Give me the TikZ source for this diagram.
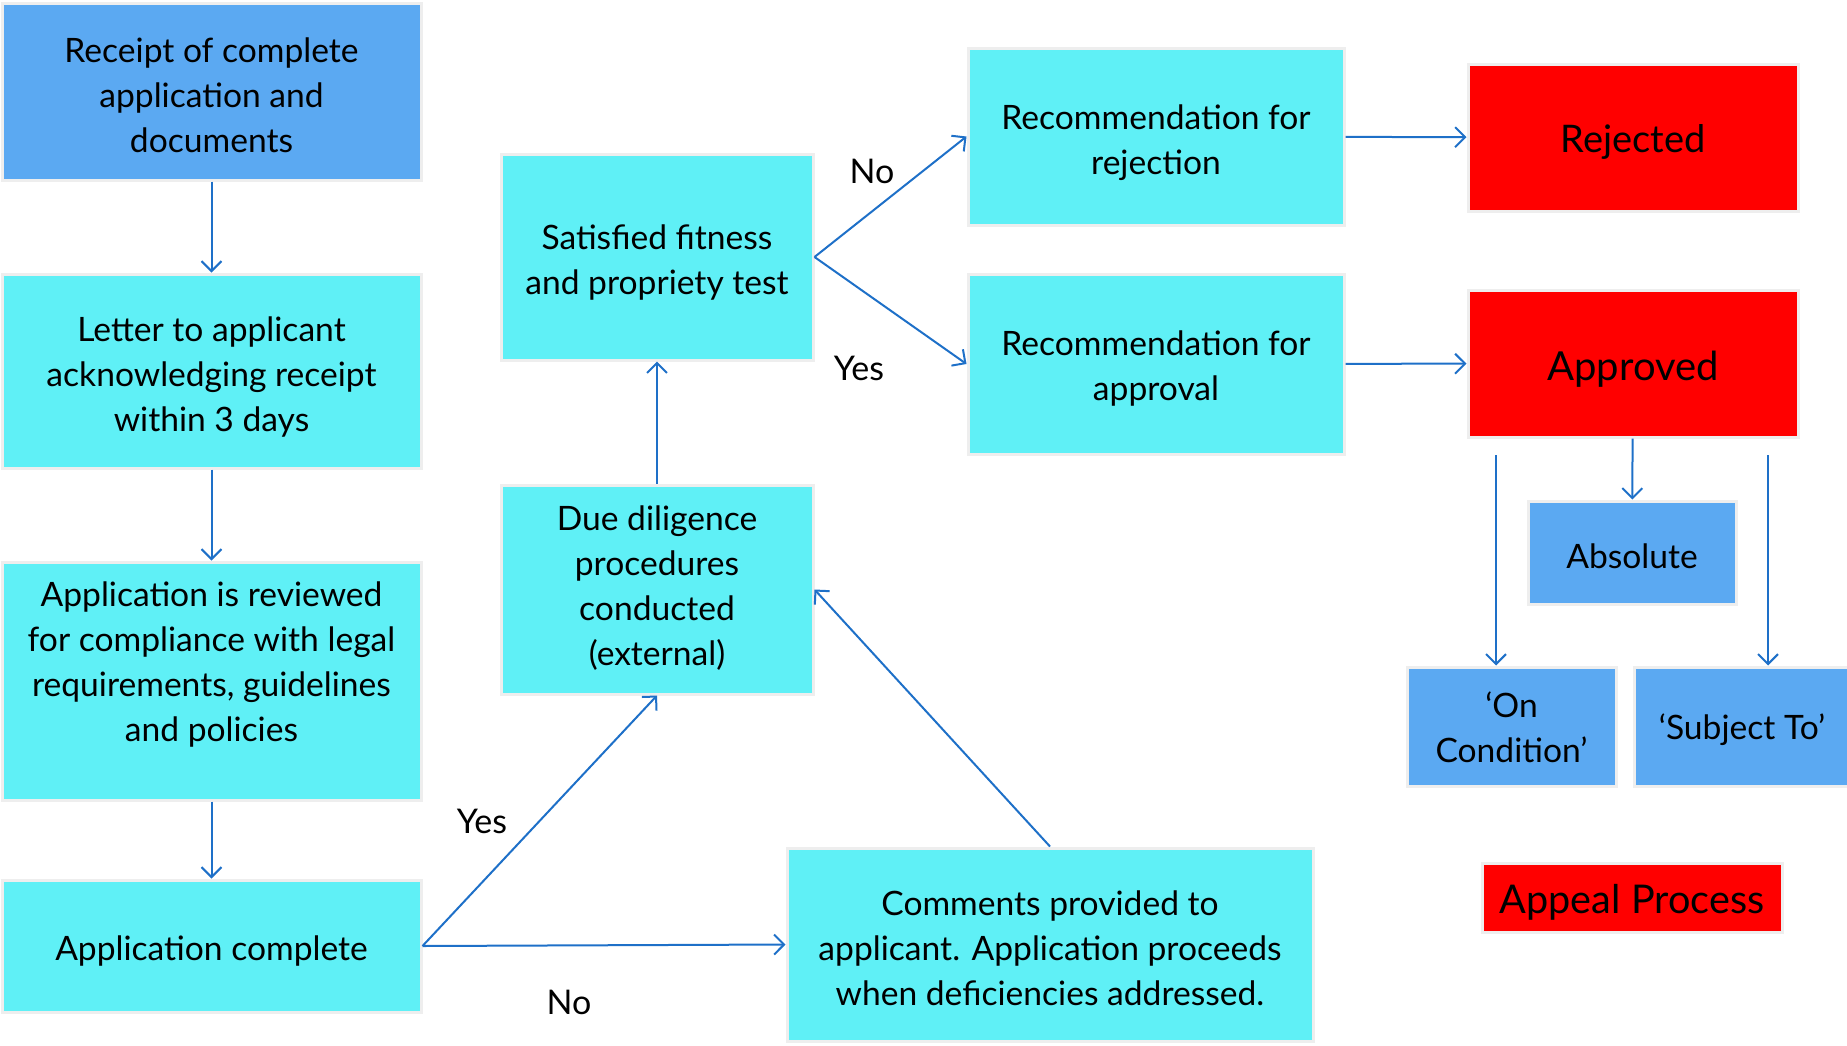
\documentclass[tikz,border=0pt]{standalone}
\usepackage{fontspec}
\setmainfont{Lato}
\usetikzlibrary{arrows.meta}
\definecolor{cyanbox}{RGB}{95,240,246}
\definecolor{bluebox}{RGB}{91,169,242}
\definecolor{redbox}{RGB}{255,0,0}
\definecolor{edgegray}{RGB}{238,238,238}
\definecolor{arrowblue}{RGB}{30,112,200}
\tikzset{
  x=0.5pt, y=-0.5pt,
  boxbase/.style={draw=edgegray, line width=1.5pt, inner sep=0pt},
  cbox/.style={boxbase, fill=cyanbox},
  bbox/.style={boxbase, fill=bluebox},
  rbox/.style={boxbase, fill=redbox},
  boxtext/.style={align=center, inner sep=0pt, text=black,
     font=\fontsize{16.8}{22.5}\selectfont, yshift=-2.4pt},
  conn/.style={draw=arrowblue, line width=1pt, -{Straight Barb[length=5pt,width=10pt,line width=1pt]}},
  lbl/.style={font=\fontsize{17}{20}\selectfont, inner sep=0pt}
}
% #1 box style, #2 name, #3-#6 corners x1 y1 x2 y2 (px), #7 text options, #8 text
\newcommand\placebox[8]{%
  \node[#1, minimum width={(#5-#3)*0.5pt}, minimum height={(#6-#4)*0.5pt}]
    (#2) at ({(#3+#5)/2},{(#4+#6)/2}) {};
  \node[boxtext, #7] (#2-t) at (#2.center) {#8};}
\begin{document}
\begin{tikzpicture}
\useasboundingbox (0,0) rectangle (1847,1045);
% left column
\placebox{bbox}{receipt}{2}{3}{421}{180}{yshift=0.6pt}{Receipt of complete\\application and\\documents}
\placebox{cbox}{letter}{2}{274}{421}{468}{yshift=-0.5pt}{Letter to applicant\\acknowledging receipt\\within 3 days}
\placebox{cbox}{review}{2}{562}{421}{800}{yshift=10.6pt}{Application is reviewed\\for compliance with legal\\requirements, guidelines\\and policies}
\placebox{cbox}{complete}{2}{880}{421}{1012}{}{Application complete}
% middle column
\placebox{cbox}{satisfied}{501}{154}{813}{360}{yshift=-0.5pt}{Satisfied fitness\\and propriety test}
\placebox{cbox}{due}{501}{485}{813}{694}{yshift=3pt}{Due diligence\\procedures\\conducted\\(external)}
\placebox{cbox}{comments}{787}{848}{1313}{1041}{yshift=0.6pt}{Comments provided to\\applicant. Application proceeds\\when deficiencies addressed.}
% recommendations
\placebox{cbox}{recrej}{968}{48}{1344}{225}{yshift=-0.5pt}{Recommendation for\\rejection}
\placebox{cbox}{recapp}{968}{274}{1344}{454}{}{Recommendation for\\approval}
% outcomes
\placebox{rbox}{rejected}{1468}{64}{1798}{211}{font=\fontsize{19}{24}\selectfont}{Rejected}
\placebox{rbox}{approved}{1468}{290}{1798}{437}{font=\fontsize{20}{24}\selectfont, yshift=-0.5pt}{Approved}
\placebox{bbox}{absolute}{1528}{501}{1736}{604}{yshift=0.6pt}{Absolute}
\placebox{bbox}{oncond}{1407}{667}{1616}{786}{yshift=1.8pt}{‘On\\Condition’}
\placebox{bbox}{subject}{1634}{667}{1850}{786}{yshift=0.6pt}{‘Subject To’}
\placebox{rbox}{appeal}{1482}{863}{1782}{932}{font=\fontsize{19.8}{24}\selectfont}{Appeal Process}
% free ends
\coordinate (lstart) at (1496,455);
\coordinate (rstart) at (1768,455);
% connectors
\draw[conn] (receipt) -- (letter);
\draw[conn] (letter) -- (review);
\draw[conn] (review) -- (complete);
\draw[conn] (complete.east) -- (due.south);
\draw[conn] (complete.east) -- (comments.west);
\draw[conn] (comments.north) -- (due.east);
\draw[conn] (due) -- (satisfied);
\draw[conn] (satisfied.east) -- (recrej.west);
\draw[conn] (satisfied.east) -- (recapp.west);
\draw[conn] (recrej) -- (rejected);
\draw[conn] (recapp) -- (approved);
\draw[conn] (approved) -- (absolute);
\draw[conn] (lstart) -- (lstart |- oncond.north);
\draw[conn] (rstart) -- (rstart |- subject.north);
% labels
\node[lbl] (lno1) at (872,171) {No};
\node[lbl] (lyes1) at (859,368) {Yes};
\node[lbl] (lyes2) at (482,821) {Yes};
\node[lbl] (lno2) at (569,1002) {No};
\end{tikzpicture}
\end{document}
